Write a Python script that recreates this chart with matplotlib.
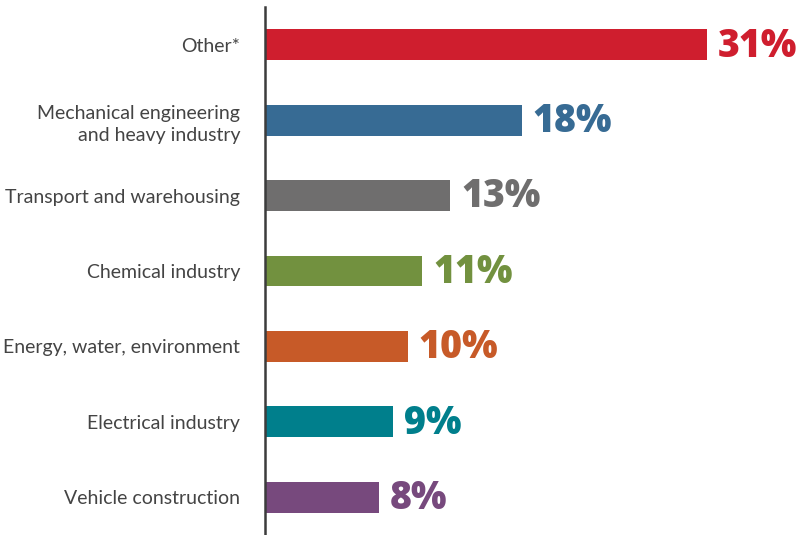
import matplotlib
matplotlib.use('Agg')
import matplotlib.pyplot as plt

sectors = ['Other*', 'Mechanical engineering\nand heavy industry', 'Transport and warehousing',
           'Chemical industry', 'Energy, water, environment', 'Electrical industry',
           'Vehicle construction']
shares = [31, 18, 13, 11, 10, 9, 8]
colors = ['#CF1E2E', '#376B94', '#6F6E6E', '#72913F', '#C75A28', '#007F8C', '#77497D']

fig = plt.figure(figsize=(7.98, 5.35), dpi=100)
ax = fig.add_axes([265 / 798, 0, 533 / 798, 528 / 535])

pos = list(range(len(sectors)))
ax.barh(pos, shares, height=0.41, color=colors)

for p, v, c in zip(pos, shares, colors):
    ax.annotate(f'{v}%', (v, p), xytext=(8, -1), textcoords='offset points',
                va='center', ha='left', fontsize=27, fontweight='heavy',
                family='Open Sans', color=c)

ax.set_xlim(0, 31 * 533 / 442)
ax.set_ylim(6.5, -0.5)
ax.set_yticks(pos)
ax.set_yticklabels(sectors, fontsize=14, family='Lato', fontweight='normal',
                   color='#444444', ha='right', linespacing=1.4)
ax.tick_params(axis='y', length=0, pad=18)
ax.set_xticks([])
for side in ['top', 'right', 'bottom']:
    ax.spines[side].set_visible(False)
ax.spines['left'].set_color('#3c3c3c')
ax.spines['left'].set_linewidth(1.8)

fig.savefig('out.png', dpi=100)
